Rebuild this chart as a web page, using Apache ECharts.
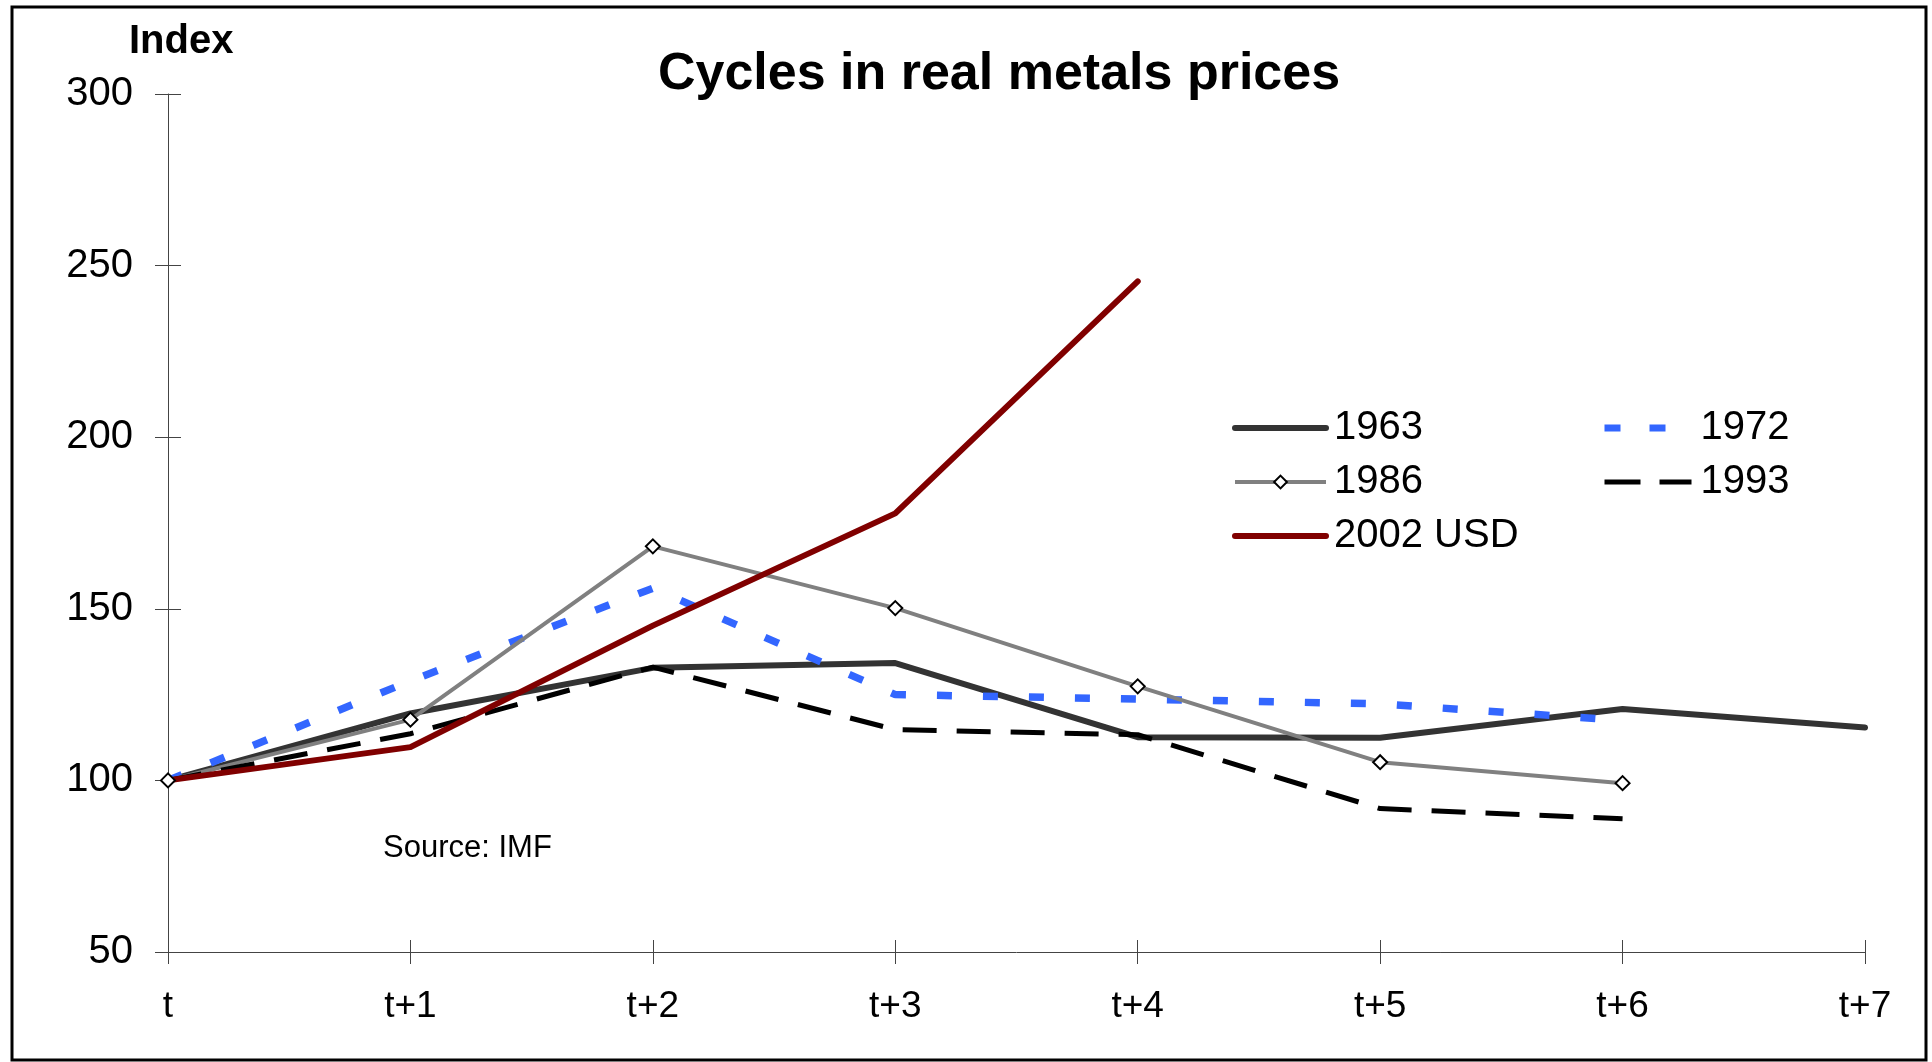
<!DOCTYPE html>
<html>
<head>
<meta charset="utf-8">
<script src="https://cdn.jsdelivr.net/npm/echarts@6/dist/echarts.min.js"></script>
<style>
html,body{margin:0;padding:0;background:#fff;}
#chart{width:1932px;height:1062px;}
</style>
</head>
<body>
<div id="chart"></div>
<script>
const categories = ['t', 't+1', 't+2', 't+3', 't+4', 't+5', 't+6', 't+7'];
const s1963 = [100, 119.5, 132.8, 134.2, 112.6, 112.4, 120.8, 115.4];
const s1972 = [100, 129, 156, 125, 123.7, 122.3, 117.5, null];
const s1986 = [100, 117.7, 168.2, 150.2, 127.4, 105.3, 99.2, null];
const s1993 = [100, 113.6, 133, 114.8, 113.3, 91.8, 88.8, null];
const s2002 = [100, 109.7, 145.1, 177.8, 245.4, null, null, null];
const yTicks = { min: 50, max: 300, interval: 50 };

const FONT = "'Liberation Sans', Arial, sans-serif";
const chart = echarts.init(document.getElementById('chart'), null, { renderer: 'canvas' });

const DASH72 = [15, 31];
const DASH93 = [34, 20];

const option = {
  backgroundColor: '#ffffff',
  animation: false,
  grid: { left: 168, right: 67, top: 94, bottom: 110, containLabel: false },
  graphic: [
    { type: 'rect', silent: true, z: 100,
      shape: { x: 12, y: 7, width: 1914, height: 1053 },
      style: { fill: 'none', stroke: '#000', lineWidth: 3 } },
    { type: 'text', silent: true,
      style: { text: 'Cycles in real metals prices', x: 999, y: 75, textAlign: 'center', textVerticalAlign: 'middle',
               font: 'bold 52px ' + FONT, fill: '#000' } },
    { type: 'text', silent: true,
      style: { text: 'Index', x: 129, y: 42, textAlign: 'left', textVerticalAlign: 'middle',
               font: 'bold 40px ' + FONT, fill: '#000' } },
    { type: 'text', silent: true,
      style: { text: 'Source: IMF', x: 383, y: 848, textAlign: 'left', textVerticalAlign: 'middle',
               font: '31px ' + FONT, fill: '#000' } }
  ],
  legend: [
    {
      orient: 'vertical', left: 1227, top: 403, itemWidth: 91, itemHeight: 16, itemGap: 14,
      data: [
        { name: '1963', itemStyle: { opacity: 0 }, lineStyle: { width: 6, cap: 'round', color: '#333333' } },
        { name: '1986', lineStyle: { width: 4, color: '#808080' } },
        { name: '2002 USD', itemStyle: { opacity: 0 }, lineStyle: { width: 6, cap: 'round', color: '#800000' } }
      ],
      textStyle: { fontFamily: FONT, fontSize: 40, color: '#000', lineHeight: 40, padding: [0, 0, 0, 3] }
    },
    {
      orient: 'vertical', left: 1596, top: 403, itemWidth: 87, itemHeight: 16, itemGap: 14,
      data: [
        { name: '1972', itemStyle: { opacity: 0 }, lineStyle: { width: 7, type: [16, 29], color: '#3366FF' } },
        { name: '1993', itemStyle: { opacity: 0 }, lineStyle: { width: 5, type: [36, 19], color: '#000000' } }
      ],
      textStyle: { fontFamily: FONT, fontSize: 40, color: '#000', lineHeight: 40, padding: [0, 0, 0, 4] }
    }
  ],
  xAxis: [
    {
      type: 'category', data: categories, boundaryGap: false,
      axisLine: { show: true, lineStyle: { color: '#444', width: 1 } },
      axisTick: { show: true, alignWithLabel: true, length: 12, lineStyle: { color: '#444' } },
      axisLabel: { fontFamily: FONT, fontSize: 37, color: '#000', margin: 36 },
      splitLine: { show: false }
    },
    {
      type: 'category', data: categories, boundaryGap: false, position: 'bottom', offset: 0,
      axisLine: { show: false },
      axisTick: { show: true, inside: true, length: 12, lineStyle: { color: '#444' } },
      axisLabel: { show: false },
      splitLine: { show: false }
    }
  ],
  yAxis: [
    {
      type: 'value', min: yTicks.min, max: yTicks.max, interval: yTicks.interval,
      axisLine: { show: true, lineStyle: { color: '#444', width: 1 } },
      axisTick: { show: true, length: 13, lineStyle: { color: '#444' } },
      axisLabel: { fontFamily: FONT, fontSize: 40, color: '#000', margin: 35 },
      splitLine: { show: false }
    },
    {
      type: 'value', min: yTicks.min, max: yTicks.max, interval: yTicks.interval, position: 'left', offset: 0,
      axisLine: { show: false },
      axisTick: { show: true, inside: true, length: 13, lineStyle: { color: '#444' } },
      axisLabel: { show: false },
      splitLine: { show: false }
    }
  ],
  series: [
    { name: '1963', type: 'line', data: s1963, symbol: 'none',
      lineStyle: { color: '#333333', width: 6, cap: 'round', join: 'round' }, itemStyle: { color: '#333333' } },
    { name: '1972', type: 'line', data: s1972, symbol: 'none',
      lineStyle: { color: '#3366FF', width: 7.5, type: DASH72, cap: 'butt' }, itemStyle: { color: '#3366FF' } },
    { name: '1986', type: 'line', data: s1986, symbol: 'diamond', symbolSize: 14, showSymbol: true,
      lineStyle: { color: '#808080', width: 4 },
      itemStyle: { color: '#ffffff', borderColor: '#000', borderWidth: 2 } },
    { name: '1993', type: 'line', data: s1993, symbol: 'none',
      lineStyle: { color: '#000000', width: 5, type: DASH93, cap: 'butt' }, itemStyle: { color: '#000000' } },
    { name: '2002 USD', type: 'line', data: s2002, symbol: 'none',
      lineStyle: { color: '#800000', width: 6, cap: 'round', join: 'round' }, itemStyle: { color: '#800000' } }
  ]
};
chart.setOption(option);
</script>
</body>
</html>
